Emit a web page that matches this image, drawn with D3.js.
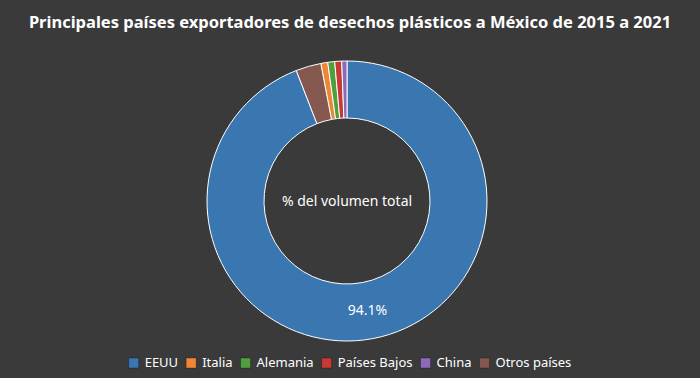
<!DOCTYPE html>
<html>
<head>
<meta charset="utf-8">
<script src="https://cdn.jsdelivr.net/npm/d3@7"></script>
<style>
  body { margin: 0; background: #3a3a3a; }
  svg { display: block; font-family: "Noto Sans", "Open Sans", sans-serif; }
</style>
</head>
<body>
<svg id="chart"></svg>
<script>
// datos (% del volumen total)
const paises = ['EEUU', 'Italia', 'Alemania', 'Países Bajos', 'China', 'Otros países'];
const valores = [94.1, 0.8, 0.8, 0.8, 0.6, 2.9];
const colores = ['#3a76af', '#ef8636', '#519e3e', '#c53a32', '#8d69b8', '#84584e'];
// orden en que se dibujan las porciones (sentido horario desde arriba)
const ordenPorciones = ['EEUU', 'Otros países', 'Italia', 'Alemania', 'Países Bajos', 'China'];

const width = 700, height = 378;
const cx = 347, cy = 201, outerR = 140, innerR = 83;

const svg = d3.select('#chart')
    .attr('width', width)
    .attr('height', height);

svg.append('rect')
    .attr('width', width)
    .attr('height', height)
    .attr('fill', '#3a3a3a');

svg.append('text')
    .attr('x', width / 2)
    .attr('y', 28)
    .attr('text-anchor', 'middle')
    .attr('fill', '#fff')
    .style('font-size', '16.5px')
    .style('font-weight', 'bold')
    .text('Principales países exportadores de desechos plásticos a México de 2015 a 2021');

const data = paises.map((p, i) => ({pais: p, valor: valores[i]}));

const color = d3.scaleOrdinal()
    .domain(paises)
    .range(colores);

const pie = d3.pie()
    .value(d => d.valor)
    .sort((a, b) => ordenPorciones.indexOf(a.pais) - ordenPorciones.indexOf(b.pais));

const arc = d3.arc()
    .innerRadius(innerR)
    .outerRadius(outerR);

const g = svg.append('g')
    .attr('transform', `translate(${cx},${cy})`);

const arcs = pie(data);

g.selectAll('path')
    .data(arcs)
  .enter()
  .append('path')
    .attr('d', arc)
    .attr('fill', d => color(d.data.pais))
    .attr('stroke', '#fff')
    .attr('stroke-width', 1);

// etiqueta del porcentaje de EEUU, en el centroide de su porción
const eeuu = arcs.find(d => d.data.pais === 'EEUU');
const pos = arc.centroid(eeuu);
g.append('text')
    .attr('x', pos[0])
    .attr('y', pos[1])
    .attr('dy', '0.35em')
    .attr('text-anchor', 'middle')
    .attr('fill', '#fff')
    .style('font-size', '14px')
    .text(d3.format('.1f')(eeuu.data.valor) + '%');

g.append('text')
    .attr('x', 0)
    .attr('y', 0)
    .attr('dy', '0.35em')
    .attr('text-anchor', 'middle')
    .attr('fill', '#fff')
    .style('font-size', '14px')
    .text('% del volumen total');

// leyenda
const legend = svg.append('g');
const items = legend.selectAll('g.item')
    .data(paises)
  .enter()
  .append('g')
    .attr('class', 'item');

items.append('rect')
    .attr('width', 10)
    .attr('height', 10)
    .attr('y', -9)
    .attr('fill', d => color(d))
    .attr('stroke', 'rgba(0,0,0,0.35)')
    .attr('stroke-width', 0.8);

items.append('text')
    .attr('x', 16)
    .attr('fill', '#fff')
    .style('font-size', '13px')
    .text(d => d);

let x = 0;
items.each(function() {
  const w = 16 + d3.select(this).select('text').node().getComputedTextLength();
  d3.select(this).attr('transform', `translate(${x},0)`);
  x += w + 8;
});
const total = x - 8;
legend.attr('transform', `translate(${(width - total) / 2},367)`);
</script>
</body>
</html>
